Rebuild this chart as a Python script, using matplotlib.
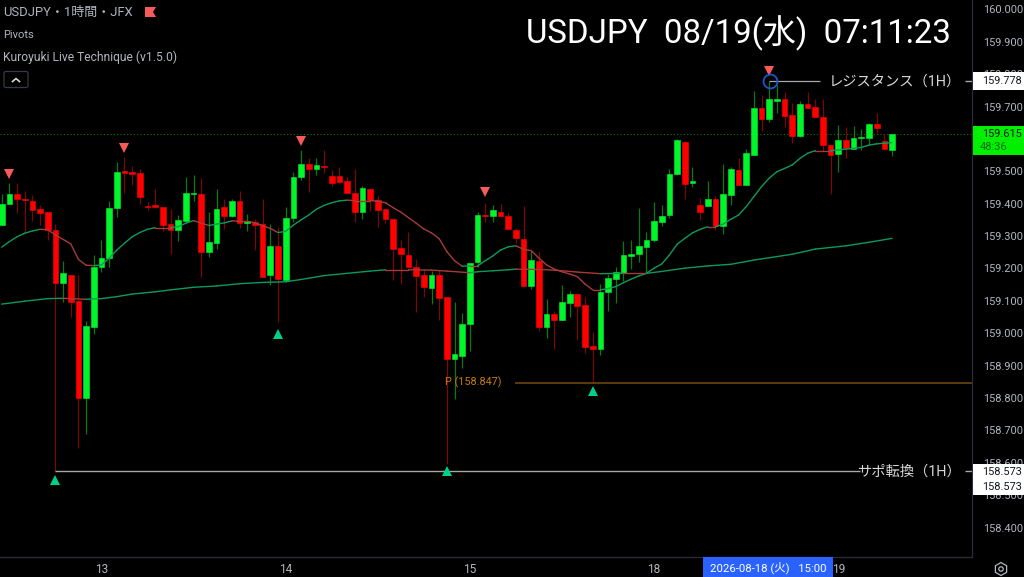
import matplotlib
matplotlib.use("Agg")
import matplotlib.pyplot as plt
from matplotlib.patches import Rectangle, FancyBboxPatch, RegularPolygon, Polygon, Circle
import numpy as np

plt.rcParams['font.family'] = ['Roboto', 'Noto Sans CJK JP', 'DejaVu Sans']

opens = [159.334,159.399,159.429,159.415,159.410,159.384,159.373,159.319,159.155,159.181,
         159.101,158.801,159.019,159.205,159.231,159.387,159.501,159.498,159.495,159.392,
         159.395,159.390,159.337,159.320,159.348,159.431,159.430,159.250,159.280,159.389,
         159.361,159.408,159.341,159.345,159.337,159.181,159.270,159.166,159.355,159.484,
         159.522,159.506,159.518,159.486,159.486,159.470,159.434,159.375,159.446,159.412,
         159.384,159.353,159.263,159.243,159.205,159.181,159.141,159.181,159.111,158.920,
         158.930,159.030,159.221,159.366,159.362,159.375,159.362,159.319,159.290,159.145,
         159.224,159.020,159.059,159.041,159.093,159.122,159.088,158.961,158.951,159.126,
         159.168,159.187,159.238,159.245,159.266,159.288,159.344,159.366,159.492,159.592,
         159.464,159.396,159.393,159.414,159.331,159.427,159.504,159.458,159.552,159.696,
         159.663,159.718,159.724,159.673,159.609,159.707,159.700,159.668,159.581,159.554,
         159.596,159.569,159.604,159.602,159.645,159.594,159.567]
highs = [159.430,159.463,159.463,159.440,159.426,159.396,159.373,159.337,159.223,159.181,
         159.180,159.039,159.243,159.288,159.410,159.529,159.543,159.517,159.506,159.405,
         159.445,159.390,159.383,159.366,159.483,159.488,159.479,159.375,159.446,159.414,
         159.414,159.439,159.368,159.352,159.414,159.337,159.327,159.389,159.497,159.566,
         159.542,159.542,159.566,159.504,159.513,159.482,159.506,159.455,159.446,159.424,
         159.384,159.355,159.288,159.313,159.228,159.198,159.193,159.195,159.111,159.096,
         159.063,159.218,159.375,159.403,159.396,159.400,159.371,159.325,159.393,159.255,
         159.251,159.107,159.068,159.149,159.131,159.122,159.111,159.004,159.152,159.183,
         159.206,159.284,159.288,159.386,159.313,159.404,159.397,159.508,159.600,159.595,
         159.514,159.418,159.470,159.425,159.523,159.513,159.542,159.569,159.749,159.736,
         159.778,159.766,159.744,159.711,159.716,159.745,159.723,159.723,159.581,159.642,
         159.638,159.640,159.631,159.650,159.679,159.615,159.615]
lows = [159.334,159.399,159.371,159.314,159.348,159.333,159.288,158.573,159.097,159.049,
        158.647,158.689,158.998,159.189,159.206,159.358,159.432,159.458,159.399,159.381,
        159.386,159.316,159.244,159.284,159.347,159.410,159.175,159.235,159.260,159.322,
        159.358,159.324,159.316,159.257,159.174,159.150,159.035,159.159,159.345,159.473,
        159.436,159.489,159.496,159.456,159.460,159.432,159.345,159.353,159.378,159.328,
        159.341,159.165,159.151,159.205,159.066,159.113,159.090,159.041,158.596,158.797,
        158.892,158.946,159.204,159.345,159.345,159.362,159.323,159.278,159.147,159.136,
        159.006,158.985,158.951,159.041,159.049,158.979,158.938,158.845,158.934,159.068,
        159.094,159.161,159.198,159.220,159.187,159.283,159.332,159.356,159.489,159.414,
        159.451,159.350,159.393,159.318,159.307,159.397,159.459,159.458,159.552,159.625,
        159.652,159.679,159.638,159.589,159.605,159.696,159.668,159.564,159.430,159.497,
        159.542,159.569,159.566,159.581,159.618,159.569,159.548]
closes = [159.399,159.429,159.415,159.412,159.381,159.372,159.319,159.155,159.185,159.098,
          158.801,159.022,159.204,159.231,159.387,159.499,159.495,159.493,159.421,159.390,
          159.389,159.334,159.320,159.349,159.432,159.433,159.252,159.283,159.385,159.363,
          159.408,159.341,159.346,159.334,159.174,159.270,159.168,159.355,159.484,159.522,
          159.508,159.520,159.514,159.463,159.468,159.432,159.375,159.448,159.412,159.381,
          159.353,159.259,159.244,159.205,159.177,159.143,159.181,159.110,158.920,158.936,
          159.029,159.218,159.365,159.363,159.381,159.362,159.323,159.293,159.147,159.226,
          159.018,159.059,159.041,159.096,159.121,159.084,158.958,158.950,159.127,159.170,
          159.188,159.242,159.245,159.269,159.288,159.346,159.362,159.493,159.596,159.462,
          159.470,159.375,159.414,159.331,159.430,159.507,159.459,159.556,159.696,159.662,
          159.723,159.723,159.672,159.610,159.709,159.696,159.668,159.580,159.552,159.596,
          159.572,159.603,159.606,159.645,159.634,159.569,159.615]

fast_ma = [159.266,159.283,159.298,159.309,159.316,159.321,159.320,159.303,159.290,159.276,
           159.228,159.210,159.209,159.211,159.232,159.257,159.278,159.298,159.311,159.321,
           159.326,159.326,159.326,159.329,159.340,159.348,159.340,159.333,159.337,159.341,
           159.347,159.346,159.346,159.341,159.332,159.324,159.311,159.315,159.334,159.350,
           159.365,159.383,159.395,159.403,159.409,159.411,159.410,159.410,159.410,159.408,
           159.403,159.388,159.374,159.357,159.340,159.322,159.310,159.292,159.252,159.224,
           159.207,159.208,159.208,159.224,159.239,159.257,159.267,159.270,159.259,159.255,
           159.232,159.211,159.198,159.190,159.183,159.175,159.152,159.134,159.134,159.138,
           159.144,159.156,159.167,159.177,159.185,159.201,159.214,159.242,159.275,159.293,
           159.310,159.321,159.329,159.329,159.337,159.352,159.365,159.391,159.422,159.453,
           159.479,159.499,159.509,159.520,159.540,159.556,159.564,159.564,159.564,159.566,
           159.569,159.571,159.574,159.581,159.585,159.587,159.589]

slow_idx = [0,3,6,8,11,13,15,17,20,22,25,28,31,34,37,39,42,45,48,50,53,56,58,61,62,64,66,67,
            70,72,75,78,81,84,86,89,92,95,98,103,106,110,113,116]
slow_ma = [159.090,159.099,159.107,159.108,159.105,159.107,159.113,159.121,159.128,159.134,
           159.142,159.146,159.153,159.157,159.159,159.166,159.178,159.185,159.192,159.196,
           159.196,159.195,159.192,159.187,159.190,159.193,159.196,159.198,159.197,159.195,
           159.189,159.184,159.185,159.185,159.191,159.201,159.208,159.213,159.226,159.244,
           159.260,159.270,159.281,159.293]

pivot_high_idx = [1,16,39,63,100]
pivot_high_y = [159.492,159.572,159.594,159.436,159.810]
pivot_low_idx = [7,36,58,77]
pivot_low_y = [158.547,158.999,158.575,158.822]

price_ticks = [158.4,158.5,158.6,158.7,158.8,158.9,159.0,159.1,159.2,159.3,159.4,159.5,159.6,159.7,159.8,159.9,160.0]
day_idx = [13,37,61,85,109]
day_labels = ["13","14","15","18","19"]

last_price = 159.615
pivot_p = 158.847
resistance = 159.778
support = 158.573

UP = "#00f52a"
DOWN = "#ff0000"
GREY = "#b2b5be"

fig = plt.figure(figsize=(10.24, 5.77), dpi=100, facecolor="black")
ax = fig.add_axes([0, 20/577, 972/1024, 557/577], facecolor="black")
ax.set_xlim(-0.22, 126.42)
ax.set_ylim(158.3089, 160.0293)

x = np.arange(len(opens))
o = np.array(opens)
c = np.array(closes)
up = c >= o

# wicks first, bodies on top
ax.vlines(x[up], np.array(lows)[up], np.array(highs)[up], color="#087a10", lw=0.9, zorder=2)
ax.vlines(x[~up], np.array(lows)[~up], np.array(highs)[~up], color="#7c0606", lw=0.9, zorder=2)
ax.bar(x[up], (c - o)[up], bottom=o[up], width=0.74, color=UP, edgecolor=UP, lw=0.4, zorder=3)
ax.bar(x[~up], (o - c)[~up], bottom=c[~up], width=0.74, color=DOWN, edgecolor=DOWN, lw=0.4, zorder=3)


def trend_line(xs, ys):
    # colour follows the slope, as the indicator does
    for i in range(1, len(xs)):
        col = "#0c9a5c" if ys[i] > ys[i - 1] else "#a83a3a"
        ax.plot(xs[i - 1:i + 1], ys[i - 1:i + 1], color=col, lw=1.0, zorder=4, solid_capstyle="round")


trend_line(list(x), fast_ma)
trend_line(slow_idx, slow_ma)

ax.axhline(last_price, color="#0a7a0a", lw=0.8, ls=(0, (1, 2)), zorder=1)
ax.plot(pivot_high_idx, pivot_high_y, "v", color="#f85a5a", ms=7, mew=0, zorder=5)
ax.plot(pivot_low_idx, pivot_low_y, "^", color="#00d08a", ms=7, mew=0, zorder=5)

ax.hlines(pivot_p, 66.9, 126.42, color="#7a4a12", lw=1.1, zorder=2)
ax.hlines(support, 7, 111.8, color="#a8a8a8", lw=1, zorder=2)
ax.hlines(resistance, 100, 106.6, color="#a8a8a8", lw=0.9, zorder=2)
ax.plot([100.1], [resistance], "o", mfc="none", mec="#1c56c8", mew=1.3, ms=10, zorder=6)
ax.text(57.7, pivot_p + 0.002, "P (158.847)", color="#c87a10", fontsize=7.8, va="center", ha="left", zorder=6)
ax.text(125.0, resistance, "レジスタンス（1H）", color="#d8d8d8", fontsize=10.3, va="center", ha="right", zorder=6)
ax.text(125.0, support, "サポ転換（1H）", color="#d8d8d8", fontsize=10.3, va="center", ha="right", zorder=6)
ax.hlines([resistance, support], 125.5, 126.42, color="#a8a8a8", lw=1, zorder=2)

ax.yaxis.tick_right()
ax.set_yticks(price_ticks)
ax.set_yticklabels(["%.3f" % p for p in price_ticks], color=GREY, fontsize=7.9)
ax.set_xticks(day_idx)
ax.set_xticklabels(day_labels, color=GREY, fontsize=8.6)
ax.tick_params(axis="both", length=0)
ax.tick_params(axis="y", pad=8)
ax.tick_params(axis="x", pad=4)
for s in ["top", "left"]:
    ax.spines[s].set_visible(False)
for s in ["right", "bottom"]:
    ax.spines[s].set_color("#2a2e39")
    ax.spines[s].set_linewidth(0.9)

# overlay in pixels for the header, axis tags and icons
ov = fig.add_axes([0, 0, 1, 1], facecolor="none")
ov.set_xlim(0, 1024)
ov.set_ylim(577, 0)
ov.axis("off")

ov.text(3, 12, "USDJPY・1時間・JFX", color=GREY, fontsize=9.4, va="center")
ov.add_patch(Polygon([(145, 7), (156, 7), (153, 12), (156, 17), (145, 17)], color="#f85a5a", lw=0))
ov.text(3, 35, "Pivots", color=GREY, fontsize=8, va="center")
ov.text(3, 57, "Kuroyuki Live Technique (v1.5.0)", color=GREY, fontsize=8.7, va="center")
ov.add_patch(FancyBboxPatch((4, 71.5), 24, 16, boxstyle="round,pad=0,rounding_size=2", fc="none", ec="#363a45", lw=0.9))
ov.plot([12.5, 16, 19.5], [81.5, 78.5, 81.5], color="#d8d8d8", lw=1.2)

ov.text(738, 33, "USDJPY  08/19(水)  07:11:23", color="white", fontsize=23.8, ha="center", va="center")

ov.add_patch(Rectangle((973, 72), 51, 18, color="white", lw=0))
ov.text(1002, 81, "%.3f" % resistance, color="#131722", fontsize=7.9, ha="center", va="center")
ov.add_patch(Rectangle((973, 464), 51, 31, color="white", lw=0))
ov.text(1002, 472, "%.3f" % support, color="#131722", fontsize=7.9, ha="center", va="center")
ov.text(1002, 487, "%.3f" % support, color="#131722", fontsize=7.9, ha="center", va="center")
ov.add_patch(Rectangle((973, 126), 51, 29, color="#00f000", lw=0))
ov.text(1002, 134, "%.3f" % last_price, color="#131722", fontsize=7.9, ha="center", va="center")
ov.text(994, 147, "48:36", color="#0b6b12", fontsize=7.9, ha="center", va="center")

ov.add_patch(Rectangle((703, 557), 130, 20, color="#2962ff", lw=0))
ov.text(768, 568, "2026-08-18 (火)   15:00", color="white", fontsize=8.2, ha="center", va="center")

ov.add_patch(RegularPolygon((1001, 569), 6, radius=6.5, fc="none", ec=GREY, lw=0.9))
ov.add_patch(Circle((1001, 569), 2.2, fc="none", ec=GREY, lw=0.9))

fig.savefig("out.png", dpi=100, facecolor="black")
